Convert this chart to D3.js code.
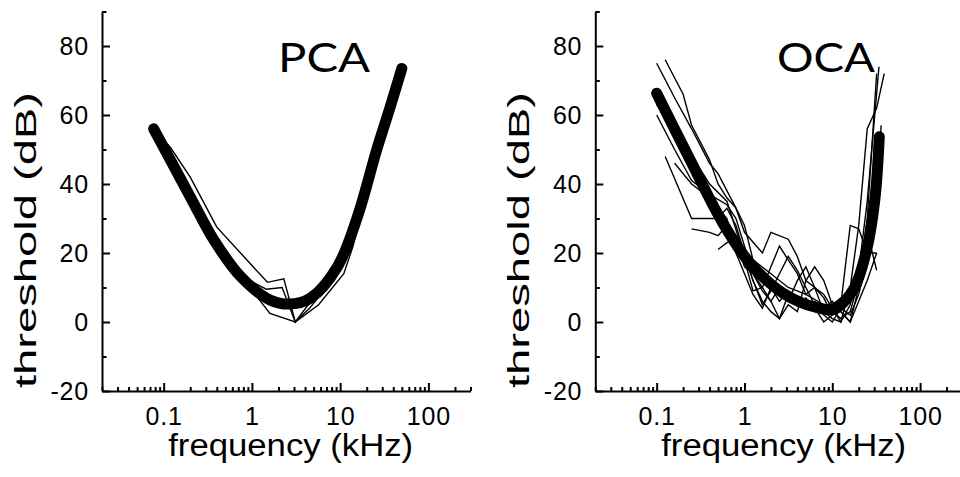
<!DOCTYPE html>
<html>
<head>
<meta charset="utf-8">
<script src="https://cdn.jsdelivr.net/npm/d3@7"></script>
<style>
 body { margin:0; background:#fff; }
 text { font-family:"Liberation Sans", Arial, sans-serif; fill:#000; }
</style>
</head>
<body>
<div id="chart"></div>
<script>
// tick values
var xMajor = [0.1, 1, 10, 100];
var yMajor = [-20, 0, 20, 40, 60, 80];
var yMinor = [-10, 10, 30, 50, 70, 90];

// PCA: fitted curve + individual thresholds, [kHz, dB]
var pcaFit = [[0.077,56],[0.2,36.3],[0.37,23.8],[0.75,13.1],[1.6,6.4],[2.75,5.2],[4.6,6.9],[9.3,16],[15.7,30.5],[26,50],[37,62.4],[50,73.5]];
var pcaA = [[0.09,54],[0.12,50.5],[0.2,42],[0.4,27.5],[1.5,11.5],[2.3,12.5],[3.1,0],[5.7,5],[11,14],[14,22],[20,38],[28,52],[40,64],[50,72]];
var pcaB = [[0.09,53],[0.2,37],[0.4,24],[0.8,13],[1.45,9.5],[2.2,10],[3.1,0],[4.2,4.5],[6,9],[10,17],[20,37],[30,54],[48,72]];
var pcaC = [[0.1,50],[0.2,38],[0.5,20],[1.05,8.5],[1.6,2.5],[3.1,0],[4.5,4],[8,12],[15,28],[30,55]];

// OCA
var ocaFit = [[0.1,66.3],[0.24,47],[0.57,28.6],[1.16,17],[2.77,8.3],[6.6,4.2],[10.5,3.8],[17.3,9.3],[24.6,20.9],[30.5,35.4],[34.3,53.7]];
var oca1 = [[0.1,75],[0.16,65],[0.25,56],[0.4,46],[0.5,43],[0.8,33],[1,28],[1.25,18],[2,14],[3.15,10],[5,8],[8,5],[10,3],[12.5,1],[16,3],[20,12],[25,30],[32,72]];
var oca2 = [[0.125,76],[0.2,66],[0.25,57],[0.4,47],[0.5,40],[0.63,36],[0.8,33],[1,26],[1.6,20],[2,26],[3.15,24],[4,19],[5,12],[6.3,10],[8,8],[10,4],[12.5,0],[16,5],[20,15],[25,35],[34,74]];
var oca3 = [[0.1,60],[0.16,50],[0.25,41],[0.4,37],[0.63,34],[0.8,30],[1,22],[1.25,14],[1.6,10],[2,6],[2.5,10],[3.15,6],[4,12],[5,16],[6.3,10],[8,3],[10,1],[12.5,0],[16,10],[20,28],[25,56],[32,62],[39,72]];
var oca4 = [[0.125,48],[0.25,30],[0.4,30],[0.5,30],[0.63,33],[0.8,28],[1,20],[1.25,12],[1.6,6],[2,3],[2.5,1],[3.15,8],[4,5],[5,7],[6.3,4],[8,0],[10,2],[12.5,5],[16,28],[20,27],[25,20],[32,20]];
var oca5 = [[0.25,27],[0.4,26],[0.5,25],[0.63,28],[0.8,25],[1,18],[1.25,9],[1.6,10],[2,16],[2.5,22],[3.15,18],[4,14],[5,8],[6.3,10],[8,7],[10,2],[12.5,3],[16,0],[20,10],[25,22],[32,35]];
var oca6 = [[0.5,21],[0.63,23],[0.8,24],[1,16],[1.25,14],[1.6,9],[2,6],[2.5,1],[3.15,5],[4,3],[5,12],[6.3,16],[8,12],[10,5],[12.5,7],[16,8],[20,15],[25,26],[32,15]];
var oca7 = [[0.1,63],[0.2,52],[0.4,40],[0.63,35],[1,19],[1.25,12],[1.6,5],[2,9],[2.5,14],[3.15,19],[4,15],[5,10],[6.3,5],[8,2],[10,0],[12.5,4],[16,2],[20,8],[25,18],[32,36],[36,57]];
var oca8 = [[0.16,46],[0.25,40],[0.4,36],[0.63,30],[0.8,20],[1,14],[1.25,8],[1.6,4],[2,10],[2.5,6],[3.15,9],[4,6],[5,4],[6.3,6],[8,4],[10,6],[12.5,3],[16,0],[20,6],[25,12],[32,20]];

var svg = d3.select("#chart").append("svg")
    .attr("width", 960)
    .attr("height", 477);

// minor log ticks 2..9 per decade
var xMinor = [];
[0.01, 0.1, 1, 10, 100].forEach(function (d) {
    for (var k = 2; k < 10; k++) {
        var v = +(d * k).toPrecision(3);
        if (v >= 0.02 && v <= 300) xMinor.push(v);
    }
});

function panel(x0, x1, label, labelX, labelW, fit, lines) {
    var x = d3.scaleLog().domain([0.02, 300]).range([x0, x1]);
    var y = d3.scaleLinear().domain([-20, 90]).range([391, 11.5]);
    var g = svg.append("g");

    // y axis, ticks pointing inwards
    var yAx = g.append("g").attr("transform", "translate(" + x0 + ",0)")
        .call(d3.axisLeft(y).tickValues(yMajor).tickSizeInner(-8).tickSizeOuter(0)
              .tickPadding(13).tickFormat(function (d) { return String(d); }));
    yAx.selectAll("text").style("font-size", "25px").style("letter-spacing", "0.8px");
    g.append("g").attr("transform", "translate(" + x0 + ",0)")
        .call(d3.axisLeft(y).tickValues(yMinor).tickSizeInner(-4.5).tickSizeOuter(0).tickFormat(""))
        .select(".domain").remove();

    // x axis
    var xAx = g.append("g").attr("transform", "translate(0,391)")
        .call(d3.axisBottom(x).tickValues(xMajor).tickSizeInner(-8).tickSizeOuter(0)
              .tickPadding(16).tickFormat(d3.format("~g")));
    xAx.selectAll("text").style("font-size", "25px").style("letter-spacing", "0.8px");
    g.append("g").attr("transform", "translate(0,391)")
        .call(d3.axisBottom(x).tickValues(xMinor).tickSizeInner(-4).tickSizeOuter(0).tickFormat(""))
        .select(".domain").remove();

    g.selectAll(".domain, .tick line").attr("stroke", "#000").attr("stroke-width", 2);

    var line = d3.line().x(function (d) { return x(d[0]); }).y(function (d) { return y(d[1]); });

    lines.forEach(function (s) {
        g.append("path").datum(s)
            .attr("d", line)
            .attr("fill", "none")
            .attr("stroke", "#000")
            .attr("stroke-width", 1.4)
            .attr("stroke-linejoin", "miter");
    });

    g.append("path").datum(fit)
        .attr("d", line.curve(d3.curveCatmullRom))
        .attr("fill", "none")
        .attr("stroke", "#000")
        .attr("stroke-width", 11)
        .attr("stroke-linecap", "round");

    // axis titles
    g.append("text")
        .attr("x", x(0.1) + 127).attr("y", 456)
        .attr("text-anchor", "middle")
        .attr("textLength", 245).attr("lengthAdjust", "spacingAndGlyphs")
        .style("font-size", "31px")
        .text("frequency (kHz)");
    g.append("text")
        .attr("transform", "translate(" + (x0 - 66) + ",240) rotate(-90)")
        .attr("text-anchor", "middle")
        .attr("textLength", 296).attr("lengthAdjust", "spacingAndGlyphs")
        .style("font-size", "30px")
        .text("threshold (dB)");

    // panel label
    g.append("text")
        .attr("x", labelX).attr("y", 72)
        .attr("textLength", labelW).attr("lengthAdjust", "spacingAndGlyphs")
        .style("font-family", "Lato, 'Open Sans', sans-serif")
        .style("font-size", "40px")
        .text(label);
}

panel(102, 470.5, "PCA", 278, 92, pcaFit, [pcaA, pcaB, pcaC]);
panel(595.3, 962, "OCA", 777, 98, ocaFit, [oca1, oca2, oca3, oca4, oca5, oca6, oca7, oca8]);
</script>
</body>
</html>
